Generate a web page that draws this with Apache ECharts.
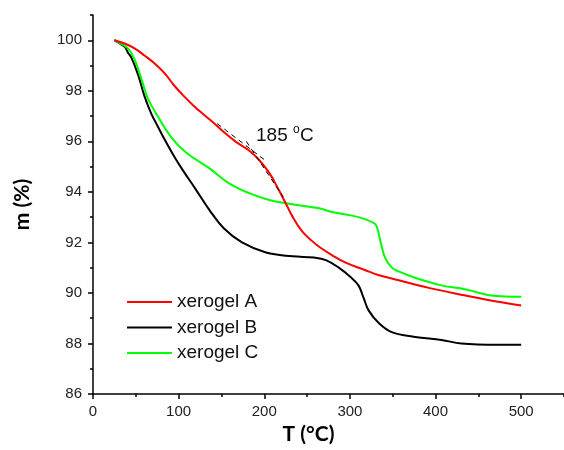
<!DOCTYPE html>
<html>
<head>
<meta charset="utf-8">
<script src="https://cdn.jsdelivr.net/npm/echarts@6/dist/echarts.min.js"></script>
<style>
html,body{margin:0;padding:0;background:#fff;}
#chart{width:564px;height:450px;}
</style>
</head>
<body>
<div id="chart"></div>
<script>
// ---- data ----
const tempA = [25, 37, 49, 60, 72, 84, 95, 107, 119, 130, 142, 151, 167, 183, 194, 206, 217, 225, 233, 244, 256, 264, 279, 295, 318, 334, 357, 392, 435, 473, 500];
const massA = [100, 99.87, 99.67, 99.4, 99.08, 98.68, 98.2, 97.76, 97.36, 97.04, 96.7, 96.42, 95.98, 95.62, 95.26, 94.74, 94.07, 93.55, 93.02, 92.45, 92.05, 91.83, 91.5, 91.2, 90.9, 90.7, 90.5, 90.2, 89.9, 89.65, 89.5];

const tempB = [25, 37, 41, 45, 53, 60, 68, 76, 84, 95, 105, 119, 136, 153, 174, 202, 233, 258, 272, 287, 300, 310, 316, 322, 334, 349, 376, 407, 430, 473, 500];
const massB = [100, 99.74, 99.5, 99.3, 98.6, 97.8, 97.1, 96.57, 96.05, 95.39, 94.85, 94.15, 93.28, 92.55, 92.0, 91.6, 91.45, 91.4, 91.3, 91.0, 90.65, 90.3, 89.8, 89.3, 88.8, 88.45, 88.26, 88.14, 88.0, 87.95, 87.95];

const tempC = [25, 41, 49, 57, 64, 76, 91, 109, 136, 159, 183, 206, 225, 264, 279, 310, 326, 331, 336, 341, 349, 357, 376, 407, 434, 446, 465, 500];
const massC = [100, 99.67, 99.2, 98.42, 97.7, 96.97, 96.18, 95.55, 94.93, 94.34, 93.94, 93.68, 93.55, 93.35, 93.2, 93.0, 92.8, 92.65, 92.0, 91.4, 91.0, 90.85, 90.6, 90.3, 90.15, 90.05, 89.9, 89.85];

// tangent construction lines around the 185 °C onset
const tangent1T = [145, 203];
const tangent1M = [96.7, 95.2];
const tangent2T = [179, 222];
const tangent2M = [96.0, 93.8];

const seriesNames = ['xerogel A', 'xerogel B', 'xerogel C'];
const xMajorTicks = [0, 100, 200, 300, 400, 500];
const yMajorTicks = [86, 88, 90, 92, 94, 96, 98, 100];
const annotationValue = '185';
const annotationUnitSup = 'o';
const annotationUnit = 'C';

function pairs(xs, ys) { return xs.map((x, i) => [x, ys[i]]); }

const labelFont = { fontFamily: 'Liberation Sans', fontSize: 15, color: '#222' };
const axisLineStyle = { color: '#000', width: 1.5 };

const chart = echarts.init(document.getElementById('chart'), null, { renderer: 'canvas' });
chart.setOption({
  animation: false,
  backgroundColor: '#fff',
  grid: { left: 93, right: 0, top: 15, bottom: 55 },
  legend: {
    data: seriesNames,
    orient: 'vertical',
    icon: 'rect',
    left: 127,
    top: 292,
    padding: 0,
    itemWidth: 45,
    itemHeight: 2,
    itemGap: 5.5,
    textStyle: { fontFamily: 'Liberation Sans', fontSize: 19, lineHeight: 20, color: '#111' }
  },
  xAxis: [{
    type: 'value', min: 0, max: 550, interval: 100,
    name: 'T (°C)', nameLocation: 'middle', nameGap: 30,
    nameTextStyle: { fontFamily: 'Lato', fontWeight: 'bold', fontSize: 21, color: '#000', padding: [0, 40, 0, 0] },
    axisLine: { show: true, lineStyle: axisLineStyle },
    axisTick: { show: true, inside: false, length: 5, customValues: xMajorTicks, lineStyle: axisLineStyle },
    axisLabel: Object.assign({ margin: 10, customValues: xMajorTicks }, labelFont),
    splitLine: { show: false }
  }, {
    type: 'value', min: 0, max: 550, interval: 50, position: 'bottom', gridIndex: 0,
    axisLine: { show: false },
    axisTick: { show: true, inside: false, length: 3, lineStyle: axisLineStyle },
    axisLabel: { show: false },
    splitLine: { show: false }
  }],
  yAxis: [{
    type: 'value', min: 86, max: 101, interval: 2,
    name: 'm (%)', nameLocation: 'middle', nameGap: 60,
    nameTextStyle: { fontFamily: 'Lato', fontWeight: 'bold', fontSize: 21, color: '#000' },
    axisLine: { show: true, lineStyle: axisLineStyle },
    axisTick: { show: true, inside: false, length: 5, customValues: yMajorTicks, lineStyle: axisLineStyle },
    axisLabel: Object.assign({ margin: 11, customValues: yMajorTicks }, labelFont),
    splitLine: { show: false }
  }, {
    type: 'value', min: 86, max: 101, interval: 1, position: 'left', gridIndex: 0, offset: 0,
    axisLine: { show: false },
    axisTick: { show: true, inside: false, length: 3, lineStyle: axisLineStyle },
    axisLabel: { show: false },
    splitLine: { show: false }
  }],
  series: [
    {
      name: seriesNames[0], type: 'line', data: pairs(tempA, massA),
      smooth: 0.4, symbol: 'none', lineStyle: { color: '#ff0000', width: 2 }, itemStyle: { color: '#ff0000' }, z: 3
    },
    {
      name: seriesNames[1], type: 'line', data: pairs(tempB, massB),
      smooth: 0.4, symbol: 'none', lineStyle: { color: '#000000', width: 2 }, itemStyle: { color: '#000000' }, z: 2
    },
    {
      name: seriesNames[2], type: 'line', data: pairs(tempC, massC),
      smooth: 0.4, symbol: 'none', lineStyle: { color: '#00ff00', width: 2 }, itemStyle: { color: '#00ff00' }, z: 2
    },
    {
      name: 'tangent1', type: 'line', data: pairs(tangent1T, tangent1M), symbol: 'none', silent: true,
      lineStyle: { color: '#000', width: 1, type: [5, 4] }, z: 4
    },
    {
      name: 'tangent2', type: 'line', data: pairs(tangent2T, tangent2M), symbol: 'none', silent: true,
      lineStyle: { color: '#000', width: 1, type: [5, 4] }, z: 4
    }
  ],
  graphic: [
    { type: 'text', left: 256, top: 126, style: { text: annotationValue, fontFamily: 'Liberation Sans', fontSize: 19, fill: '#111' } },
    { type: 'text', left: 293, top: 124, style: { text: annotationUnitSup, fontFamily: 'Liberation Sans', fontSize: 12, fill: '#111' } },
    { type: 'text', left: 300, top: 126, style: { text: annotationUnit, fontFamily: 'Liberation Sans', fontSize: 19, fill: '#111' } }
  ]
});
</script>
</body>
</html>
